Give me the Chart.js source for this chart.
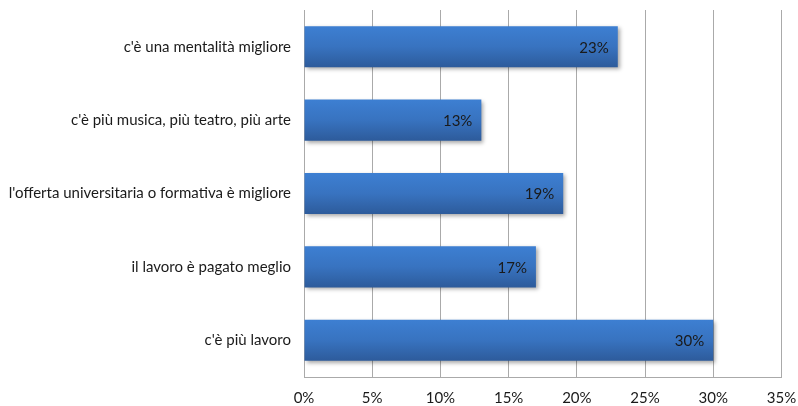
<!DOCTYPE html>
<html>
<head>
<meta charset="utf-8">
<script src="https://cdn.jsdelivr.net/npm/chart.js@4/dist/chart.umd.min.js"></script>
<style>
  html, body { margin: 0; padding: 0; background: #ffffff; }
  #wrap { width: 798px; height: 406px; position: relative; }
</style>
</head>
<body>
<div id="wrap"><canvas id="c" width="798" height="406"></canvas></div>
<script>
const categories = [
  "c'è una mentalità migliore",
  "c'è più musica, più teatro, più arte",
  "l'offerta universitaria o formativa è migliore",
  "il lavoro è pagato meglio",
  "c'è più lavoro"
];
const values = [23, 13, 19, 17, 30];
const tickValues = [0, 5, 10, 15, 20, 25, 30, 35];

const FONT = "Lato, 'Open Sans', sans-serif";
const FSIZE = 15;

function barFill(context) {
  const chart = context.chart;
  const area = chart.chartArea;
  if (!area || !chart.scales.y) return '#3a74c4';
  const yScale = chart.scales.y;
  const c = yScale.getPixelForValue(context.dataIndex);
  const half = (yScale.height / categories.length) * 0.56 / 2;
  const g = chart.ctx.createLinearGradient(0, c - half, 0, c + half);
  g.addColorStop(0, '#3d7fd2');
  g.addColorStop(0.5, '#3873c0');
  g.addColorStop(1, '#2d5b9b');
  return g;
}

const shadowPlugin = {
  id: 'barShadow',
  beforeDatasetDraw(chart) {
    const ctx = chart.ctx;
    ctx.save();
    ctx.shadowColor = 'rgba(0,0,0,0.35)';
    ctx.shadowBlur = 4;
    ctx.shadowOffsetX = 2;
    ctx.shadowOffsetY = 2;
  },
  afterDatasetDraw(chart) {
    chart.ctx.restore();
  }
};

const labelPlugin = {
  id: 'endLabels',
  afterDatasetsDraw(chart) {
    const ctx = chart.ctx;
    const meta = chart.getDatasetMeta(0);
    ctx.save();
    ctx.font = FSIZE + 'px ' + FONT;
    ctx.fillStyle = '#1a1a1a';
    ctx.textAlign = 'right';
    ctx.textBaseline = 'middle';
    meta.data.forEach((bar, i) => {
      ctx.fillText(values[i] + '%', bar.x - 9, bar.y + 1);
    });
    ctx.restore();
  }
};

function zeroPad(scale) {
  scale.paddingLeft = 0; scale.paddingRight = 0;
  scale.paddingTop = 0; scale.paddingBottom = 0;
}

new Chart(document.getElementById('c'), {
  type: 'bar',
  data: {
    labels: categories,
    datasets: [{
      data: values,
      backgroundColor: barFill,
      borderWidth: 0,
      categoryPercentage: 1,
      barPercentage: 0.56
    }]
  },
  options: {
    indexAxis: 'y',
    responsive: false,
    animation: false,
    devicePixelRatio: 1,
    layout: { padding: { top: 10, right: 16.5, left: 0, bottom: 0 } },
    plugins: { legend: { display: false }, tooltip: { enabled: false } },
    scales: {
      x: {
        min: 0, max: 35,
        afterBuildTicks(scale) { scale.ticks = tickValues.map(v => ({ value: v })); },
        afterFit(scale) { scale.height = 29; zeroPad(scale); },
        ticks: {
          callback: v => v + '%',
          color: '#1a1a1a',
          font: { size: FSIZE, family: FONT },
          padding: 12,
          maxRotation: 0
        },
        grid: { color: '#aaaaaa', lineWidth: 1, drawTicks: false },
        border: { display: true, color: '#aaaaaa' }
      },
      y: {
        afterFit(scale) { scale.width = 304; zeroPad(scale); },
        ticks: {
          color: '#1a1a1a',
          font: { size: FSIZE, family: FONT },
          padding: 13
        },
        grid: { display: false, drawTicks: false },
        border: { display: true, color: '#aaaaaa' }
      }
    }
  },
  plugins: [shadowPlugin, labelPlugin]
});
</script>
</body>
</html>
